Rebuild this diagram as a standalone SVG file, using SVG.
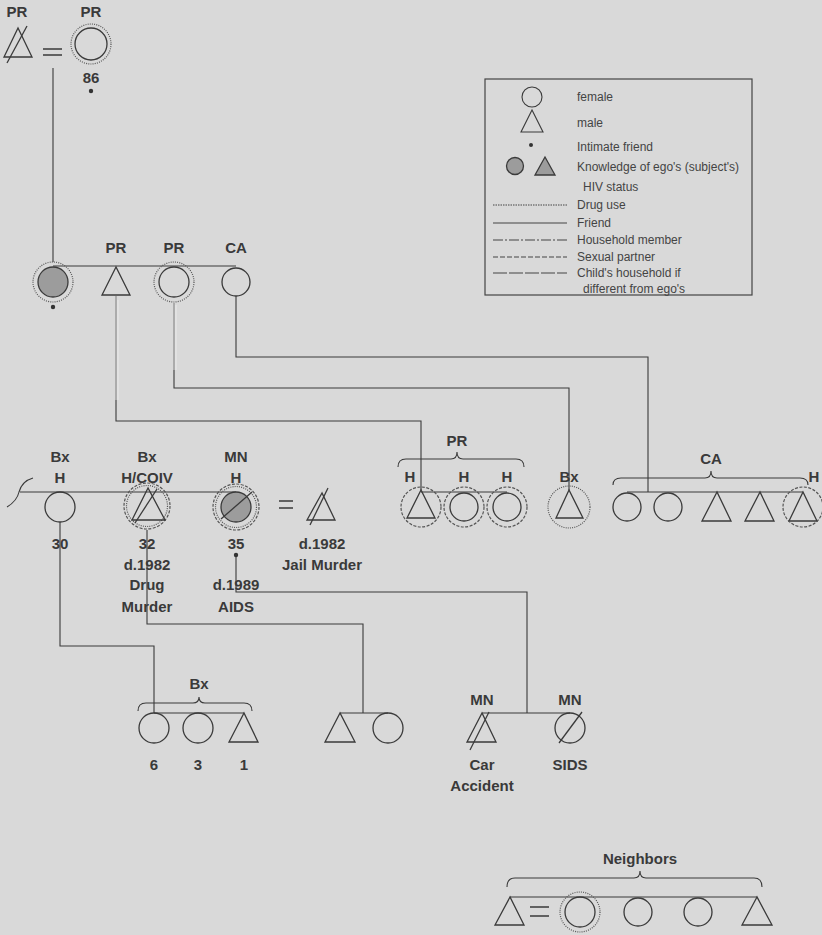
<svg xmlns="http://www.w3.org/2000/svg" width="822" height="935" viewBox="0 0 822 935">
<style>
.s{fill:none;stroke:#3a3a3a;stroke-width:1.3}
.f{fill:none;stroke:#3a3a3a;stroke-width:1.5}
.c{fill:none;stroke:#3a3a3a;stroke-width:1.1}
.g{fill:none;stroke:#8c8c8c;stroke-width:1.2}
.dot{fill:none;stroke:#555;stroke-width:1.2;stroke-dasharray:1 1.2}
.dash{fill:none;stroke:#555;stroke-width:1.2;stroke-dasharray:3 1.5}
.sh{fill:#9c9c9c;stroke:#3a3a3a;stroke-width:1.3}
.t{font-family:"Liberation Sans",Arial,sans-serif;font-size:15px;font-weight:bold;fill:#3a3a3a;text-anchor:middle}
.l{font-family:"Liberation Sans",Arial,sans-serif;font-size:12px;fill:#444}
.dt{fill:#333}
</style>
<rect width="822" height="935" fill="#d9d9d9"/>

<g id="connectors">
<line class="c" x1="53" y1="68" x2="53" y2="262"/>
<line class="c" x1="53" y1="266" x2="236" y2="266"/>
<path class="g" d="M116 296 V400"/><path d="M118 300 V400" stroke="#eaeaea" stroke-width="1"/>
<path class="c" d="M116 400 V421 H421 V490"/>
<path class="g" d="M174 303 V370"/><path d="M176 305 V370" stroke="#eaeaea" stroke-width="1"/>
<path class="c" d="M174 370 V388 H569 V490"/>
<path class="c" d="M236 296 V357 H648 V492"/>
<path class="c" d="M20 492 H236"/>
<path class="c" d="M7 507 Q17 501 19 492 Q22 481 33 478"/>
<path class="c" d="M421 492 H507"/>
<path class="c" d="M627 492 H803"/>
<path class="c" d="M60 522 V646 H154 V713"/>
<path class="c" d="M147 530 V624 H363 V713"/>
<path class="c" d="M236 556 V592 H527 V713"/>
<path class="c" d="M154 713 H244"/>
<path class="c" d="M340 713 H388"/>
<path class="c" d="M482 713 H570"/>
<path class="c" d="M510 897 H757"/>
</g>

<g id="top-couple">
<text class="t" x="17" y="17">PR</text>
<path class="s" d="M18 28 L4 57 H32 Z"/>
<line class="s" x1="7" y1="63" x2="27" y2="26"/>
<path class="f" d="M43 49 H62 M43 55 H62"/>
<text class="t" x="91" y="17">PR</text>
<circle class="s" cx="91" cy="44" r="16"/>
<circle class="dot" cx="91" cy="44" r="20"/>
<text class="t" x="91" y="83">86</text>
<circle class="dt" cx="91" cy="91" r="2.2"/>
</g>

<g id="legend">
<rect x="485" y="79" width="267" height="216" fill="none" stroke="#444" stroke-width="1.2"/>
<circle class="c" cx="532" cy="97" r="10"/>
<text class="l" x="577" y="101">female</text>
<path class="c" d="M532 110 L521 132 H543 Z"/>
<text class="l" x="577" y="127">male</text>
<circle class="dt" cx="531" cy="145" r="2"/>
<text class="l" x="577" y="151">Intimate friend</text>
<circle class="sh" cx="515" cy="166" r="8.5"/>
<path class="sh" d="M545 157 L535 175 H555 Z"/>
<text class="l" x="577" y="171">Knowledge of ego's (subject's)</text>
<text class="l" x="583" y="191">HIV status</text>
<line x1="493" y1="205" x2="567" y2="205" stroke="#444" stroke-width="1" stroke-dasharray="1.5 1"/>
<text class="l" x="577" y="209">Drug use</text>
<line x1="493" y1="223" x2="567" y2="223" stroke="#444" stroke-width="1.1"/>
<text class="l" x="577" y="227">Friend</text>
<line x1="493" y1="240" x2="567" y2="240" stroke="#444" stroke-width="1.1" stroke-dasharray="10 2 2 2"/>
<text class="l" x="577" y="244">Household member</text>
<line x1="493" y1="257" x2="567" y2="257" stroke="#444" stroke-width="1.1" stroke-dasharray="5 2"/>
<text class="l" x="577" y="261">Sexual partner</text>
<line x1="493" y1="273" x2="567" y2="273" stroke="#444" stroke-width="1.2" stroke-dasharray="14 2"/>
<text class="l" x="577" y="277">Child's household if</text>
<text class="l" x="583" y="293">different from ego's</text>
</g>

<g id="ego">
<circle class="sh" cx="53" cy="282" r="15"/>
<circle class="dot" cx="53" cy="282" r="20"/>
<circle class="dt" cx="53" cy="307" r="2.2"/>
</g>
<g id="pr-brother">
<text class="t" x="116" y="253">PR</text>
<path class="s" d="M116 267 L102 295 H130 Z"/>
</g>
<g id="pr-sister">
<text class="t" x="174" y="253">PR</text>
<circle class="s" cx="174" cy="282" r="15"/>
<circle class="dot" cx="174" cy="282" r="20"/>
</g>
<g id="ca-sister">
<text class="t" x="236" y="253">CA</text>
<circle class="s" cx="236" cy="282" r="14"/>
</g>

<g id="bx-30">
<text class="t" x="60" y="462">Bx</text>
<text class="t" x="60" y="483">H</text>
<circle class="s" cx="60" cy="507" r="15"/>
<text class="t" x="60" y="549">30</text>
</g>
<g id="bx-32">
<text class="t" x="147" y="462">Bx</text>
<text class="t" x="147" y="483">H/COIV</text>
<circle class="dash" cx="147" cy="506" r="23"/>
<circle class="dot" cx="147" cy="506" r="20.5"/>
<path class="s" d="M148 488 L132 520 H165 Z"/>
<line class="s" x1="135" y1="523" x2="157" y2="489"/>
<text class="t" x="147" y="549">32</text>
<text class="t" x="147" y="570">d.1982</text>
<text class="t" x="147" y="590">Drug</text>
<text class="t" x="147" y="612">Murder</text>
</g>
<g id="mn-35">
<text class="t" x="236" y="462">MN</text>
<text class="t" x="236" y="483">H</text>
<circle class="dash" cx="236" cy="507" r="23"/>
<circle class="dot" cx="236" cy="507" r="20.5"/>
<circle class="sh" cx="236" cy="507" r="15"/>
<line class="s" x1="221" y1="519" x2="252" y2="492"/>
<text class="t" x="236" y="549">35</text>
<circle class="dt" cx="236" cy="555" r="2.2"/>
<text class="t" x="236" y="590">d.1989</text>
<text class="t" x="236" y="612">AIDS</text>
</g>
<g id="jail-husband">
<path class="f" d="M279 501 H293 M279 508 H293"/>
<path class="s" d="M322 493 L307 520 H335 Z"/>
<line class="s" x1="310" y1="525" x2="328" y2="488"/>
<text class="t" x="322" y="549">d.1982</text>
<text class="t" x="322" y="570">Jail Murder</text>
</g>

<g id="pr-group">
<text class="t" x="457" y="446">PR</text>
<path class="c" d="M398 467 Q398 459 406 459 H451 Q457 459 457 452 Q457 459 463 459 H516 Q524 459 524 467"/>
<text class="t" x="410" y="482">H</text>
<path class="s" d="M421 490 L407 518 H435 Z"/>
<circle class="dash" cx="421" cy="507" r="20"/>
<text class="t" x="464" y="482">H</text>
<circle class="s" cx="464" cy="507" r="14"/>
<circle class="dash" cx="464" cy="507" r="20"/>
<text class="t" x="507" y="482">H</text>
<circle class="s" cx="507" cy="507" r="14"/>
<circle class="dash" cx="507" cy="507" r="20"/>
</g>
<g id="bx-man">
<text class="t" x="569" y="482">Bx</text>
<path class="s" d="M569 490 L556 518 H583 Z"/>
<circle class="dot" cx="569" cy="507" r="21"/>
</g>
<g id="ca-group">
<text class="t" x="711" y="464">CA</text>
<path class="c" d="M613 485 Q613 478 621 478 H705 Q711 478 711 471 Q711 478 717 478 H800 Q808 478 808 485"/>
<circle class="s" cx="627" cy="507" r="14"/>
<circle class="s" cx="668" cy="507" r="14"/>
<path class="s" d="M717 492 L702 521 H731 Z"/>
<path class="s" d="M760 492 L745 521 H774 Z"/>
<path class="s" d="M803 492 L789 521 H817 Z"/>
<circle class="dash" cx="803" cy="507" r="20"/>
<text class="t" x="814" y="482">H</text>
</g>

<g id="bx-children">
<text class="t" x="199" y="689">Bx</text>
<path class="c" d="M138 711 Q138 703 146 703 H193 Q199 703 199 697 Q199 703 205 703 H244 Q252 703 252 711"/>
<circle class="s" cx="154" cy="728" r="15"/>
<circle class="s" cx="198" cy="728" r="15"/>
<path class="s" d="M244 713 L229 742 H258 Z"/>
<text class="t" x="154" y="770">6</text>
<text class="t" x="198" y="770">3</text>
<text class="t" x="244" y="770">1</text>
</g>
<g id="pair">
<path class="s" d="M340 713 L325 742 H355 Z"/>
<circle class="s" cx="388" cy="728" r="15"/>
</g>
<g id="mn-children">
<text class="t" x="482" y="705">MN</text>
<path class="s" d="M482 713 L467 742 H496 Z"/>
<line class="s" x1="470" y1="750" x2="489" y2="712"/>
<text class="t" x="482" y="770">Car</text>
<text class="t" x="482" y="791">Accident</text>
<text class="t" x="570" y="705">MN</text>
<circle class="s" cx="570" cy="728" r="15"/>
<line class="s" x1="559" y1="743" x2="582" y2="712"/>
<text class="t" x="570" y="770">SIDS</text>
</g>

<g id="neighbors">
<text class="t" x="640" y="864">Neighbors</text>
<path class="c" d="M507 887 Q507 878 515 878 H634 Q640 878 640 871 Q640 878 646 878 H754 Q762 878 762 887"/>
<path class="s" d="M510 897 L495 925 H524 Z"/>
<path class="f" d="M530 907 H549 M530 916 H549"/>
<circle class="s" cx="580" cy="912" r="15"/>
<circle class="dot" cx="580" cy="912" r="20"/>
<circle class="s" cx="638" cy="912" r="14"/>
<circle class="s" cx="698" cy="912" r="14"/>
<path class="s" d="M757 897 L742 925 H772 Z"/>
</g>
</svg>
